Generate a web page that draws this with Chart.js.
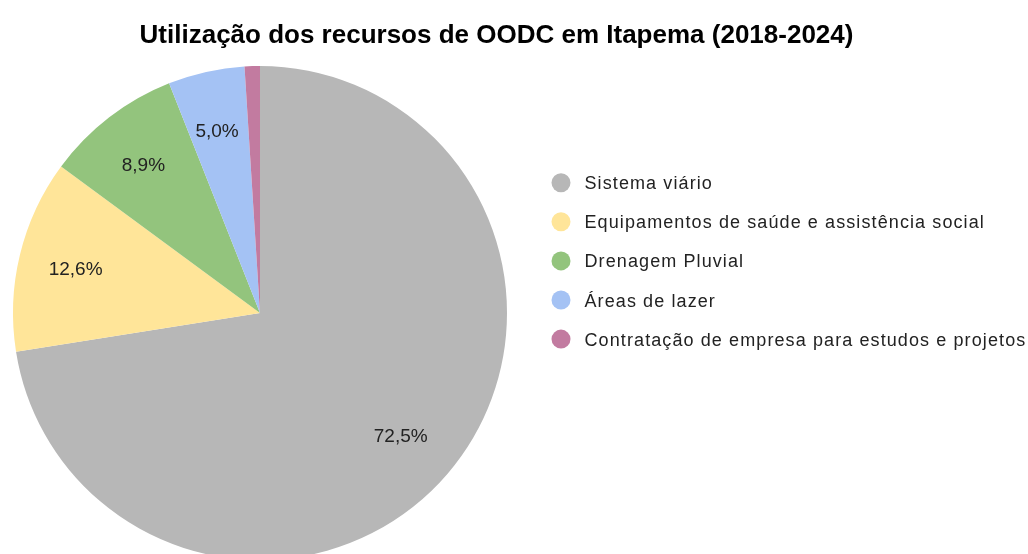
<!DOCTYPE html>
<html lang="pt-BR">
<head>
<meta charset="utf-8">
<title>Utilização dos recursos de OODC em Itapema</title>
<script src="https://cdn.jsdelivr.net/npm/chart.js@4/dist/chart.umd.min.js"></script>
<style>
  html, body { margin: 0; padding: 0; background: #fff; overflow: hidden; }
  #wrap { width: 1028px; height: 554px; overflow: hidden; }
</style>
</head>
<body>
<div id="wrap"><canvas id="oodcChart" width="1028" height="600"></canvas></div>
<script>
const chartTitle = 'Utilização dos recursos de OODC em Itapema (2018-2024)';
const categories = [
  'Sistema viário',
  'Equipamentos de saúde e assistência social',
  'Drenagem Pluvial',
  'Áreas de lazer',
  'Contratação de empresa para estudos e projetos'
];
const shares = [72.5, 12.6, 8.9, 5.0, 1.0];
const sliceColors = ['#b7b7b7', '#ffe599', '#93c47d', '#a4c2f4', '#c27ba0'];

function formatPct(v) {
  return v.toLocaleString('pt-BR', { minimumFractionDigits: 1, maximumFractionDigits: 1 }) + '%';
}

// title, slice labels and legend drawn straight on the canvas
const decorations = {
  id: 'decorations',
  afterDatasetsDraw(chart) {
    const ctx = chart.ctx;
    const arcs = chart.getDatasetMeta(0).data;
    const values = chart.data.datasets[0].data;

    ctx.save();
    ctx.fillStyle = '#222';
    ctx.font = '19px "Liberation Sans", Arial, sans-serif';
    ctx.textAlign = 'center';
    ctx.textBaseline = 'alphabetic';
    arcs.forEach((arc, i) => {
      if (values[i] < 2) return;
      const p = arc.getProps(['x', 'y', 'startAngle', 'endAngle', 'outerRadius'], true);
      const mid = (p.startAngle + p.endAngle) / 2;
      const r = p.outerRadius * 0.76;
      ctx.fillText(formatPct(values[i]), p.x + Math.cos(mid) * r - 2, p.y + Math.sin(mid) * r + 6.8);
    });
    ctx.restore();
  },
  afterDraw(chart) {
    const ctx = chart.ctx;
    ctx.save();
    ctx.fillStyle = '#000';
    ctx.font = 'bold 26px "Liberation Sans", Arial, sans-serif';
    ctx.textAlign = 'center';
    ctx.textBaseline = 'alphabetic';
    ctx.fillText(chartTitle, 496.5, 42.7);

    ctx.font = '18px "Liberation Sans", Arial, sans-serif';
    ctx.textAlign = 'left';
    if ('letterSpacing' in ctx) ctx.letterSpacing = '1.1px';
    const colors = chart.data.datasets[0].backgroundColor;
    chart.data.labels.forEach((label, i) => {
      const y = 182.7 + i * 39.1;
      ctx.fillStyle = colors[i];
      ctx.beginPath();
      ctx.arc(561, y, 9.5, 0, Math.PI * 2);
      ctx.fill();
      ctx.fillStyle = '#222';
      ctx.fillText(label, 584.5, y + 6.5);
    });
    ctx.restore();
  }
};

new Chart(document.getElementById('oodcChart'), {
  type: 'pie',
  data: {
    labels: categories,
    datasets: [{
      data: shares,
      backgroundColor: sliceColors,
      borderWidth: 0,
      hoverOffset: 0
    }]
  },
  options: {
    responsive: false,
    animation: false,
    layout: { padding: { left: 13, top: 66, right: 521, bottom: 40 } },
    plugins: {
      legend: { display: false },
      title: { display: false },
      tooltip: { enabled: false }
    }
  },
  plugins: [decorations]
});
</script>
</body>
</html>
